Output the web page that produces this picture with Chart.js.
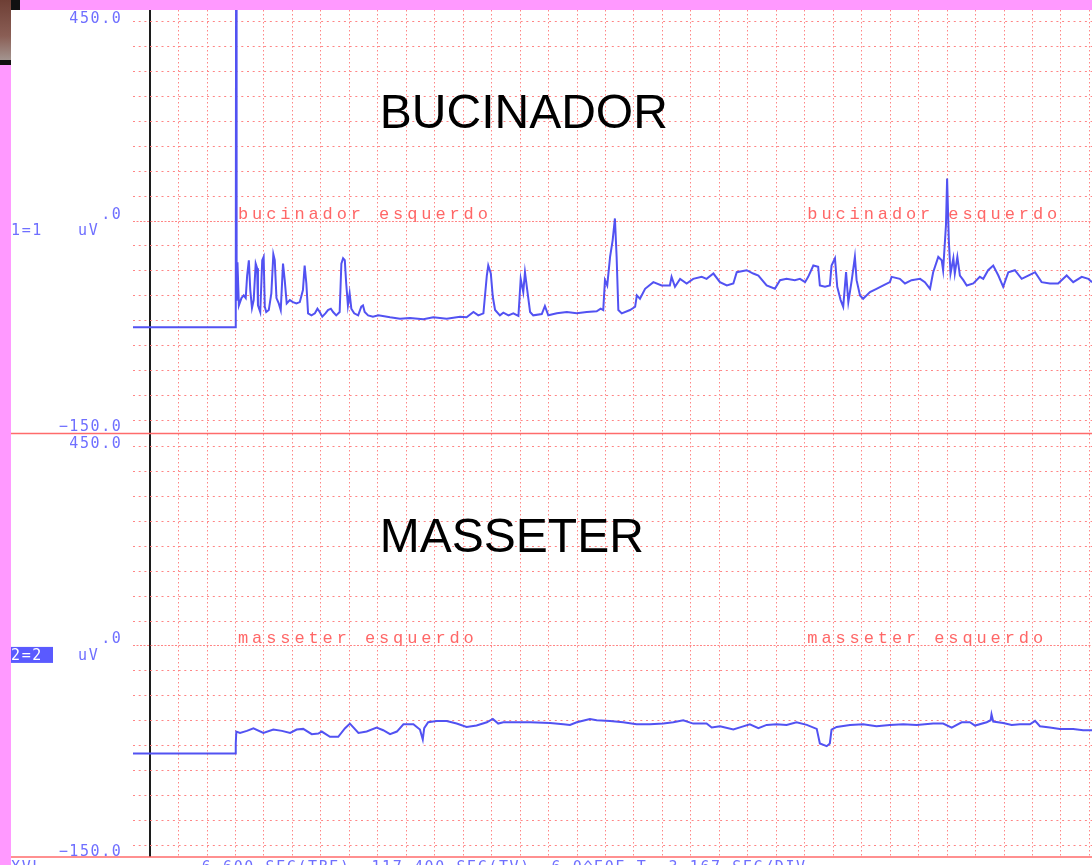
<!DOCTYPE html>
<html><head><meta charset="utf-8">
<script src="https://cdn.jsdelivr.net/npm/chart.js@4.4.1/dist/chart.umd.min.js"></script>
<style>html,body{margin:0;padding:0;background:#ff99ff;overflow:hidden}#wrap{width:1092px;height:865px;position:relative}canvas{display:block}</style>
</head><body><div id="wrap"><canvas id="c" width="1092" height="865"></canvas></div>
<script>
const bucTime = [-0.60,3.00,3.01,3.02,3.04,3.07,3.12,3.21,3.29,3.36,3.41,3.47,3.52,3.58,3.64,3.71,3.76,3.79,3.87,3.94,3.99,4.03,4.08,4.17,4.26,4.33,4.38,4.44,4.52,4.59,4.67,4.73,4.80,4.91,5.02,5.14,5.26,5.37,5.43,5.49,5.55,5.67,5.79,5.88,5.96,6.05,6.16,6.25,6.35,6.43,6.54,6.66,6.72,6.78,6.84,6.89,6.95,7.01,7.07,7.17,7.31,7.42,7.48,7.54,7.66,7.83,8.02,8.43,8.78,9.13,9.60,9.95,10.42,10.89,11.12,11.36,11.53,11.71,11.83,11.88,11.97,12.04,12.12,12.29,12.41,12.59,12.76,12.94,13.02,13.11,13.17,13.25,13.35,13.46,13.76,13.87,13.99,14.29,14.64,14.99,15.34,15.69,15.83,15.92,15.98,16.06,16.16,16.25,16.33,16.39,16.45,16.57,16.86,17.04,17.10,17.21,17.39,17.68,17.97,18.26,18.32,18.44,18.62,18.85,19.08,19.38,19.55,19.79,20.02,20.26,20.49,20.61,20.96,21.19,21.37,21.66,21.95,22.13,22.36,22.65,22.83,23.01,23.12,23.30,23.47,23.53,23.71,23.88,23.94,24.06,24.14,24.26,24.35,24.45,24.53,24.65,24.76,24.82,24.94,25.05,25.29,25.52,25.76,25.99,26.05,26.34,26.52,26.75,27.05,27.22,27.40,27.51,27.69,27.81,27.86,27.96,28.00,28.06,28.12,28.22,28.27,28.36,28.45,28.57,28.69,28.92,29.15,29.27,29.44,29.62,29.80,29.97,30.15,30.38,30.62,30.85,31.09,31.32,31.61,31.90,32.20,32.43,32.73,32.96,33.09];
const bucValues = [-10,-10,28,470,30,88,23,34,38,34,68,91,46,19,31,86,79,23,13,91,96,21,13,16,41,100,91,34,26,16,86,61,26,31,28,26,28,46,83,56,11,8,11,18,13,6,11,16,18,13,8,13,86,94,91,56,23,41,18,11,8,21,23,13,8,6,8,5,3,4,2,5,3,6,5,13,8,11,68,83,71,36,16,8,12,8,11,7,63,43,73,46,13,8,10,22,8,11,13,11,13,14,18,16,61,53,96,121,154,96,16,11,16,21,38,33,48,58,53,53,66,51,63,56,63,66,63,71,58,53,56,73,76,71,68,53,48,61,63,61,63,58,66,83,81,53,51,53,83,94,51,31,21,73,28,61,96,61,38,33,43,48,53,58,66,63,56,61,63,58,48,73,96,91,76,144,214,121,71,94,71,96,68,61,53,56,66,63,76,83,68,51,73,76,63,68,73,58,56,56,68,58,66,63,58];
const masTime = [-0.60,3.00,3.01,3.03,3.16,3.40,3.63,3.98,4.33,4.63,4.92,5.15,5.38,5.68,5.91,6.03,6.32,6.61,6.85,7.02,7.32,7.61,7.96,8.19,8.43,8.67,8.90,9.25,9.48,9.58,9.63,9.77,10.07,10.42,10.77,11.12,11.47,11.83,12.04,12.23,12.41,12.76,13.35,14.05,14.52,14.75,14.99,15.45,15.69,16.16,16.62,17.09,17.56,18.03,18.38,18.73,19.08,19.55,19.73,20.02,20.49,20.78,21.07,21.37,21.66,22.01,22.36,22.71,23.07,23.42,23.53,23.77,23.88,23.94,24.12,24.59,25.05,25.52,25.99,26.46,26.93,27.51,27.86,28.16,28.51,28.80,28.98,29.39,29.53,29.56,29.62,29.97,30.27,30.56,30.91,31.09,31.26,31.61,31.96,32.43,32.78,33.09];
const masValues = [-12,-12,3,21,19,22,26,19,24,22,19,24,25,17,18,21,13,13,26,33,19,21,27,23,17,21,32,32,24,9,26,35,37,37,33,28,30,35,40,33,35,35,35,34,32,31,35,40,38,37,35,32,32,33,35,38,33,33,27,29,24,28,32,26,31,32,31,35,31,25,3,-1,3,24,28,31,32,29,31,32,31,33,33,27,35,35,30,35,38,47,36,34,31,32,32,37,29,27,25,25,23,23];
const xGridValues = [0,1,2,3,4,5,6,7,8,9,10,11,12,13,14,15,16,17,18,19,20,21,22,23,24,25,26,27,28,29,30,31,32,33];
const yGridValues = [-150,-112.5,-75,-37.5,0,37.5,75,112.5,150,187.5,225,262.5,300,337.5,375,412.5,450];
const yLabelValues = [450,150,-150];
const yLabelTexts = ['450.0','.0','\u2212150.0'];
const channelTitles = ['BUCINADOR','MASSETER'];
const channelNotes = ['bucinador esquerdo','masseter esquerdo'];
const noteTimes = [3,23];
const channelIds = ['1=1','2=2'];
const unitText = 'uV';
const statusParts = [['XVL',0],['6.600 SEC(TBE)',18],['117.400 SEC(TV)',34],['6.0^E0E T= 3.167 SEC/DIV',51]];

const W = 1092, H = 865;
const GRID = '#ff8585';
function setLS(c, v){ if ('letterSpacing' in c) c.letterSpacing = v; }

const deco = {
  id:'deco',
  beforeDraw(chart){
    const c = chart.ctx; c.save();
    c.fillStyle = '#ff99ff'; c.fillRect(0,0,W,H);
    c.fillStyle = '#ffffff'; c.fillRect(11,10,W-11,H-10);
    const g = c.createLinearGradient(0,0,0,60);
    g.addColorStop(0,'#6e3f35'); g.addColorStop(0.6,'#8a5e55'); g.addColorStop(1,'#a3948f');
    c.fillStyle = g; c.fillRect(0,0,11,60);
    c.fillStyle = '#111'; c.fillRect(11,0,9,10); c.fillRect(0,60,11,5);
    c.restore();
  },
  beforeDatasetsDraw(chart){
    const c = chart.ctx, xs = chart.scales.x;
    const panels = [chart.scales.yBuc, chart.scales.yMas];
    c.save();
    c.strokeStyle = '#ff6b6b'; c.lineWidth = 1.5;
    panels.forEach(p => { c.beginPath(); c.moveTo(11, p.bottom); c.lineTo(W, p.bottom); c.stroke(); });
    c.fillStyle = '#000'; c.font = '48px "Liberation Sans", Arial, sans-serif'; c.textAlign='left'; c.textBaseline='alphabetic';
    panels.forEach((p,i) => { c.fillText(channelTitles[i], xs.getPixelForValue(8)+2, p.top + 118); });
    c.fillStyle = '#ff6767'; c.font = '17px "Liberation Mono", monospace'; setLS(c,'3.9px');
    panels.forEach((p,i) => {
      noteTimes.forEach(t => c.fillText(channelNotes[i], xs.getPixelForValue(t)+2.5, p.getPixelForValue(150)-2.5));
    });
    c.restore();
  },
  afterDraw(chart){
    const c = chart.ctx;
    const panels = [chart.scales.yBuc, chart.scales.yMas];
    c.save();
    c.font = '15px "DejaVu Sans Mono", monospace'; setLS(c,'1.6px');
    c.textBaseline = 'alphabetic';
    panels.forEach((p,i) => {
      c.fillStyle = '#6f6fff'; c.textAlign = 'right';
      const offs = [1.5,-2.5,11];
      yLabelValues.forEach((v,k) => c.fillText(yLabelTexts[k], 122.5, p.getPixelForValue(v)+offs[k]));
      const zy = p.getPixelForValue(150);
      c.textAlign = 'left';
      if (i === 1) { c.fillStyle = '#5a5aff'; c.fillRect(11, zy+1, 42, 16); c.fillStyle = '#ffffff'; }
      c.fillText(channelIds[i], 11, zy+14);
      c.fillStyle = '#6f6fff';
      c.fillText(unitText, 78, zy+14);
    });
    c.fillStyle = '#6f6fff'; c.textAlign='left';
    statusParts.forEach(([t,col]) => c.fillText(t, 11 + col*10.6, 872));
    c.restore();
  }
};

const yAxis = (min,max) => ({
  type:'linear', position:'left', stack:'emg', stackWeight:1, min, max,
  afterBuildTicks: s => { s.ticks = yGridValues.map(v => ({value:v})); },
  afterFit: s => { s.width = 133; },
  ticks:{display:false},
  grid:{drawTicks:false, color: GRID, lineWidth:1},
  border:{display:false, dash: ctx => (ctx.tick && ctx.tick.value===150) ? [2,1.5] : [2,3.7]}
});

new Chart(document.getElementById('c'), {
  type:'line',
  data:{ datasets:[
    { data: bucTime.map((t,i)=>({x:t,y:bucValues[i]})), xAxisID:'x', yAxisID:'yBuc', borderColor:'#5252f2', borderWidth:2, pointRadius:0, tension:0, fill:false },
    { data: masTime.map((t,i)=>({x:t,y:masValues[i]})), xAxisID:'x', yAxisID:'yMas', borderColor:'#5252f2', borderWidth:2, pointRadius:0, tension:0, fill:false }
  ]},
  options:{
    responsive:false, devicePixelRatio:1, animation:false,
    layout:{padding:{top:10,bottom:8,left:0,right:0}},
    plugins:{legend:{display:false}, tooltip:{enabled:false}},
    scales:{
      x:{ type:'linear', min:-0.6, max:33.09,
        afterBuildTicks: s => { s.ticks = xGridValues.map(v => ({value:v})); },
        afterFit: s => { s.height = 0; },
        ticks:{display:false},
        grid:{drawTicks:false,
          color: ctx => (ctx.tick && ctx.tick.value===0) ? '#1c1c1c' : GRID,
          lineWidth: ctx => (ctx.tick && ctx.tick.value===0) ? 2 : 1},
        border:{display:false, dash: ctx => (!ctx.tick || ctx.tick.value===0) ? [] : [1.5,2.5]}
      },
      yMas: yAxis(-168,470),
      yBuc: yAxis(-170,468)
    }
  },
  plugins:[deco]
});
</script></body></html>
